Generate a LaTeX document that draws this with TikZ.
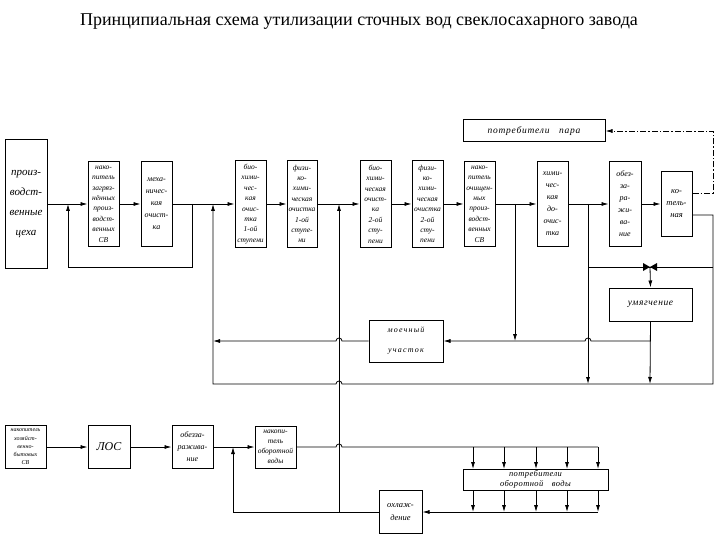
\documentclass[tikz,border=0pt]{standalone}
\usepackage{fontspec}
\setmainfont{Liberation Serif}
\usetikzlibrary{arrows.meta}

\begin{document}
\begin{tikzpicture}[
        x=1pt, y=-1pt, % 1 единица = 1 пиксель эскиза
        blok/.style={draw, line width=1pt, inner sep=0pt, align=center,
                font=\fontsize{7.5}{10.4}\selectfont\itshape}, % Стиль блоков
        lin/.style={line width=0.8pt},
        strel/.style={lin, -{Latex[length=7pt,width=4pt]}},
        klapan/.style={fill=black, line width=0.5pt},
    ]
    \useasboundingbox (0,0) rectangle (720,540);

    \node[font=\fontsize{18}{20}\selectfont] (zagl) at (359,22)
        {Принципиальная схема утилизации сточных вод свеклосахарного завода};

    % Верхняя линия: производственные стоки
    \node[blok, minimum width=42pt, minimum height=128pt, font=\fontsize{11}{20}\selectfont\itshape] (cex) at (26,204) {произ-\\водст-\\венные\\цеха};
    \node[blok, minimum width=31pt, minimum height=85pt] (nak) at (103.5,204) {нако-\\питель\\загряз-\\нённых\\произ-\\водст-\\венных\\СВ};
    \node[blok, minimum width=31pt, minimum height=85pt, font=\fontsize{8}{12}\selectfont\itshape] (mex) at (156.5,204) {меха-\\ничес-\\кая\\очист-\\ка};
    \node[blok, minimum width=31pt, minimum height=86pt] (bio1) at (250.5,204) {био-\\хими-\\чес-\\кая\\очис-\\тка\\1-ой\\ступени};
    \node[blok, minimum width=30pt, minimum height=86pt] (fh1) at (302,204) {физи-\\ко-\\хими-\\ческая\\очистка\\1-ой\\ступе-\\ни};
    \node[blok, minimum width=31pt, minimum height=86pt] (bio2) at (375.5,204) {био-\\хими-\\ческая\\очист-\\ка\\2-ой\\сту-\\пени};
    \node[blok, minimum width=31pt, minimum height=86pt] (fh2) at (427.5,204) {физи-\\ко-\\хими-\\ческая\\очистка\\2-ой\\сту-\\пени};
    \node[blok, minimum width=31pt, minimum height=85pt] (nakoch) at (479.5,204) {нако-\\питель\\очищен-\\ных\\произ-\\водст-\\венных\\СВ};
    \node[blok, minimum width=31pt, minimum height=85pt, font=\fontsize{8}{12}\selectfont\itshape] (xim) at (552.5,204) {хими-\\чес-\\кая\\до-\\очис-\\тка};
    \node[blok, minimum width=32pt, minimum height=85pt, font=\fontsize{8}{12}\selectfont\itshape] (obez) at (625,204) {обез-\\за-\\ра-\\жи-\\ва-\\ние};
    \node[blok, minimum width=31pt, minimum height=64pt, font=\fontsize{8.5}{12}\selectfont\itshape] (kot) at (676.5,204) {ко-\\тель-\\ная};
    \node[blok, minimum width=142pt, minimum height=22pt, font=\fontsize{9.5}{11}\selectfont\itshape\addfontfeature{LetterSpace=8}] (potpar) at (534,131) {потребители\quad пара};
    \node[blok, minimum width=74pt, minimum height=42pt, font=\fontsize{8}{20}\selectfont\itshape\addfontfeature{LetterSpace=15}] (moe) at (406,341) {моечный\\участок};
    \node[blok, minimum width=83pt, minimum height=33pt, font=\fontsize{9.5}{11}\selectfont\itshape\addfontfeature{LetterSpace=6}] (umya) at (650.5,304.5) {умягчение};

    % Нижняя линия: хозяйственно-бытовые стоки
    \node[blok, minimum width=41pt, minimum height=43pt, font=\fontsize{6}{8.2}\selectfont\itshape] (xb) at (25.5,447) {накопитель\\хозяйст-\\венно-\\бытовых\\СВ};
    \node[blok, minimum width=42pt, minimum height=43pt, font=\fontsize{12}{14}\selectfont\itshape] (los) at (109,447) {ЛОС};
    \node[blok, minimum width=41pt, minimum height=43pt, font=\fontsize{8}{12}\selectfont\itshape] (obez2) at (192.5,447) {обезза-\\ражива-\\ние};
    \node[blok, minimum width=41pt, minimum height=42pt, font=\fontsize{7.5}{10}\selectfont\itshape] (nakob) at (275.5,447) {накопи-\\тель\\оборотной\\воды};
    \node[blok, minimum width=145pt, minimum height=21pt, font=\fontsize{8.5}{9.5}\selectfont\itshape\addfontfeature{LetterSpace=5}] (potob) at (535.5,479.5) {потребители\\оборотной\quad воды};
    \node[blok, minimum width=43pt, minimum height=43pt, font=\fontsize{8.5}{13}\selectfont\itshape] (oxl) at (400.5,512) {охлаж-\\дение};

    % Узлы на линиях
    \coordinate (m1) at (192,204);
    \coordinate (m2) at (68,204);
    \coordinate (m3) at (213,204);
    \coordinate (m4) at (339,204);
    \coordinate (m5) at (515,204);
    \coordinate (m6) at (588,204);
    \coordinate (kl) at (650,267); % клапан
    \coordinate (b1) at (233,447);
    \coordinate (b2) at (233,512);

    % Основной поток
    \draw[strel] (cex.east) -- (nak.west);
    \draw[strel] (nak.east) -- (mex.west);
    \draw[strel] (mex.east) -- (bio1.west);
    \draw[strel] (bio1.east) -- (fh1.west);
    \draw[strel] (fh1.east) -- (bio2.west);
    \draw[strel] (bio2.east) -- (fh2.west);
    \draw[strel] (fh2.east) -- (nakoch.west);
    \draw[strel] (nakoch.east) -- (xim.west);
    \draw[strel] (xim.east) -- (obez.west);
    \draw[strel] (obez.east) -- (kot.west);

    % Обвод накопителя
    \draw[strel] (m1) -- (192,267) -| (m2);

    % Возврат от котельной
    \draw[strel] ([yshift=-11pt]kot.east) -| (713,384) -- (342,384)
        arc[start angle=0, end angle=180, radius=3pt] -- (213,384) -- (m3);
    \draw[strel, dash pattern=on 6pt off 2pt on 1.5pt off 2pt] ([yshift=11pt]kot.east) -| (713,131) -- (potpar.east);

    % Умягчение и моечный участок
    \draw[strel] (m6) -- (588,384);
    \draw[lin] (588,267) -- (713,267);
    \fill[klapan] (643,263) -- (650,267) -- (643,271) -- cycle;
    \fill[klapan] (657,263) -- (650,267) -- (657,271) -- cycle;
    \draw[strel] (kl) -- (umya.north);
    \draw[strel] (umya.south) -- (650,384);
    \draw[strel] (650,341) -- (591,341) arc[start angle=0, end angle=180, radius=3pt] -- (moe.east);
    \draw[strel] (m5) -- (515,341);
    \draw[strel] (moe.west) -- (342,341) arc[start angle=0, end angle=180, radius=3pt] -- (213,341);

    % Оборотная вода
    \draw[strel] (xb.east) -- (los.west);
    \draw[strel] (los.east) -- (obez2.west);
    \draw[strel] (obez2.east) -- (nakob.west);
    \draw[lin] (nakob.east) -- (336,447) arc[start angle=180, end angle=0, radius=3pt] -- (598,447);
    \foreach \x in {473,504,536,567,598} {
        \draw[strel] (\x,447) -- (\x,469);
        \draw[strel] (\x,490) -- (\x,512);
    }
    \draw[strel] (598,512) -- (oxl.east);
    \draw[strel] (oxl.west) -- (b2) -- (b1);
    \draw[strel] (339,512) -- (m4);
\end{tikzpicture}
\end{document}
